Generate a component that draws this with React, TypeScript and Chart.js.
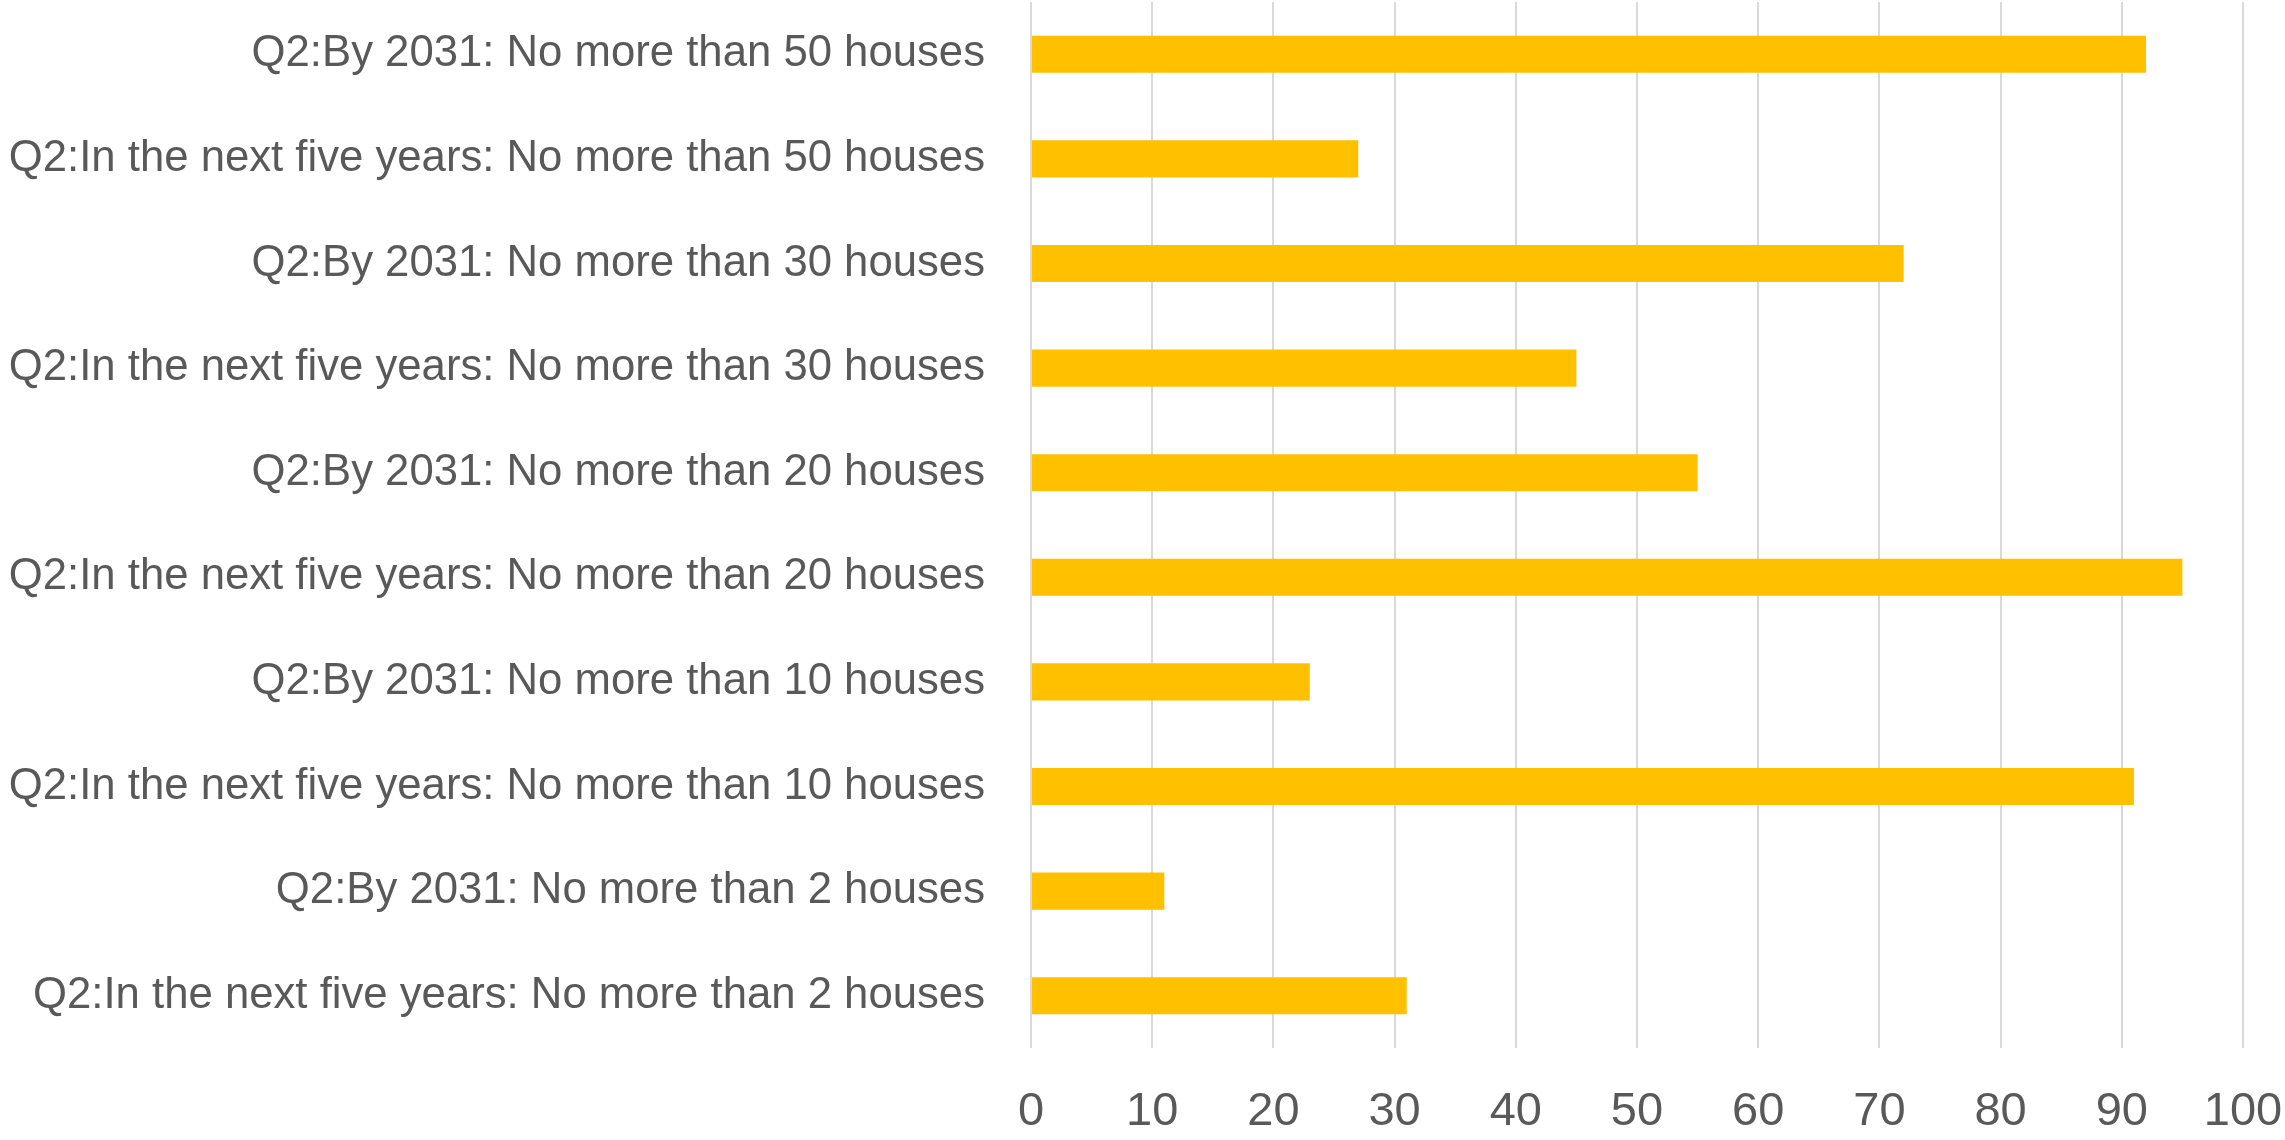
import React, { useEffect, useRef } from "react";
import { Chart, registerables } from "chart.js";

Chart.register(...registerables);

// Survey answer categories, listed top to bottom
const categories: string[] = [
  "Q2:By 2031: No more than 50 houses",
  "Q2:In the next five years: No more than 50 houses",
  "Q2:By 2031: No more than 30 houses",
  "Q2:In the next five years: No more than 30 houses",
  "Q2:By 2031: No more than 20 houses",
  "Q2:In the next five years: No more than 20 houses",
  "Q2:By 2031: No more than 10 houses",
  "Q2:In the next five years: No more than 10 houses",
  "Q2:By 2031: No more than 2 houses",
  "Q2:In the next five years: No more than 2 houses",
];

// Response counts per category
const responses: number[] = [92, 27, 72, 45, 55, 95, 23, 91, 11, 31];

// Value axis range and step
const axisMin = 0;
const axisMax = 100;
const axisStep = 10;

const BAR_COLOR = "#FFC000";
const TEXT_COLOR = "#595959";
const GRID_COLOR = "#D9D9D9";
const FONT_FAMILY = "'Liberation Sans', Arial, sans-serif";

export default function App() {
  const canvasRef = useRef<HTMLCanvasElement | null>(null);

  useEffect(() => {
    document.body.style.margin = "0";
    const canvas = canvasRef.current;
    if (!canvas) return;

    const chart = new Chart(canvas, {
      type: "bar",
      data: {
        labels: categories,
        datasets: [
          {
            data: responses,
            backgroundColor: BAR_COLOR,
            borderWidth: 0,
            categoryPercentage: 1,
            barPercentage: 0.355,
          },
        ],
      },
      options: {
        indexAxis: "y",
        animation: false,
        responsive: false,
        maintainAspectRatio: false,
        layout: { padding: { top: 2, right: 42, bottom: 0, left: 0 } },
        plugins: {
          legend: { display: false },
          tooltip: { enabled: false },
        },
        scales: {
          x: {
            min: axisMin,
            max: axisMax,
            border: { display: false },
            grid: {
              color: GRID_COLOR,
              lineWidth: 2,
              drawTicks: false,
            },
            ticks: {
              stepSize: axisStep,
              color: TEXT_COLOR,
              padding: 36,
              font: { family: FONT_FAMILY, size: 47 },
            },
            afterFit: (scale: any) => {
              scale.height = 92;
              scale.paddingLeft = 0;
              scale.paddingRight = 0;
            },
          },
          y: {
            border: { display: false },
            grid: { display: false, drawTicks: false },
            ticks: {
              color: TEXT_COLOR,
              padding: 46,
              autoSkip: false,
              font: { family: FONT_FAMILY, size: 43.7 },
            },
            afterFit: (scale: any) => {
              scale.width = 1031;
              scale.paddingTop = 0;
              scale.paddingBottom = 0;
            },
          },
        },
      },
    });

    return () => {
      chart.destroy();
    };
  }, []);

  return (
    <div style={{ position: "absolute", left: 0, top: 0, width: 2285, height: 1140, background: "#FFFFFF" }}>
      <canvas ref={canvasRef} width={2285} height={1140} style={{ display: "block" }} />
    </div>
  );
}
